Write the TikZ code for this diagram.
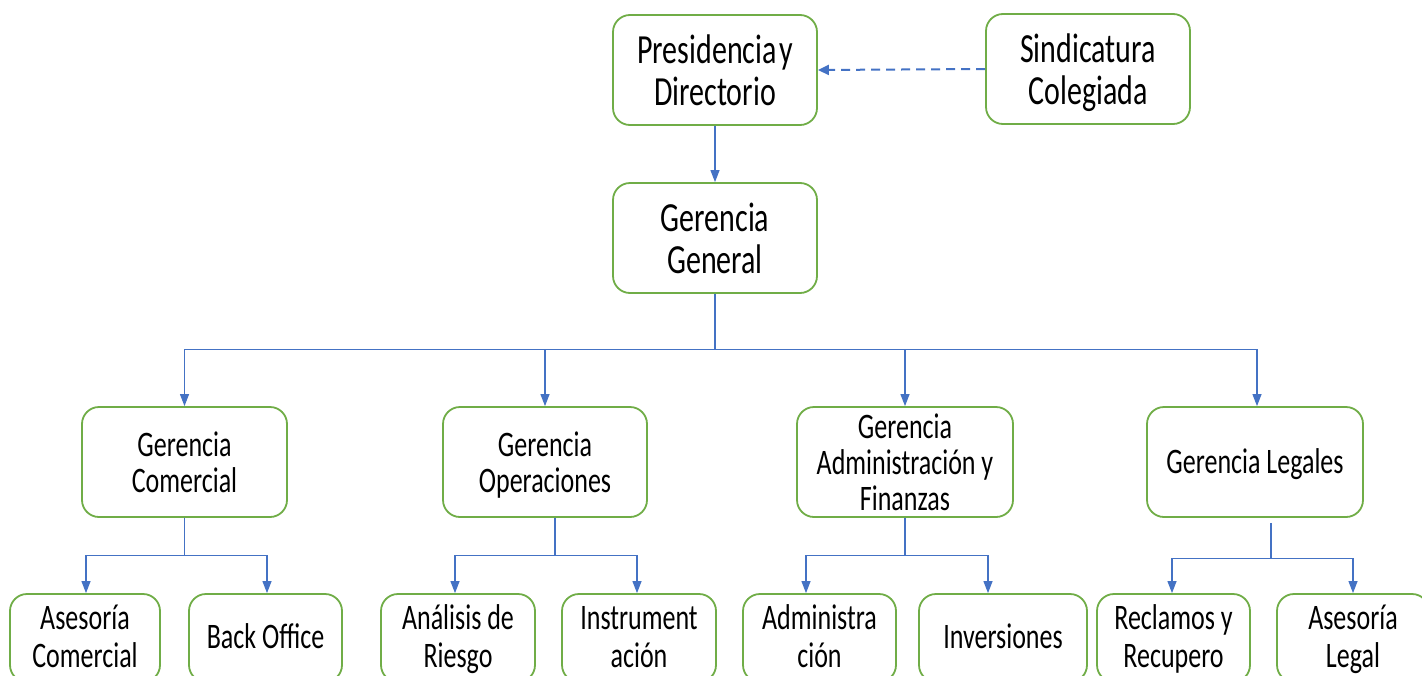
\documentclass[tikz,border=0pt]{standalone}
\usepackage{fontspec}
\setmainfont{Carlito}
\usepackage{graphicx}
\usetikzlibrary{arrows.meta}
\definecolor{boxgreen}{RGB}{112,173,71}
\definecolor{linkblue}{RGB}{68,114,196}
\newcommand{\boxtext}[4]{\raisebox{-#4}[\height][\depth]{\scalebox{1}[1.38]{\fontsize{#1}{#2}\selectfont\begin{tabular}{@{}c@{}}#3\end{tabular}}}}
\tikzset{
  orgbox/.style={draw=boxgreen, line width=1.8pt, rounded corners=17pt, fill=white, inner sep=0pt, align=center},
  conn/.style={draw=linkblue, line width=1.1pt},
  arr/.style={conn, -{Triangle[width=9pt,length=12pt]}},
  darr/.style={draw=linkblue, line width=2pt, dash pattern=on 9pt off 6pt, -{Triangle[width=10pt,length=11pt]}}
}
\begin{document}
\begin{tikzpicture}[x=1pt,y=-1pt]
\useasboundingbox (0,0) rectangle (1422,675);
\clip (0,0) rectangle (1422,675);
% top
\node[orgbox, minimum width=204pt, minimum height=110pt] (pres) at (715,70) {\boxtext{30}{30.5}{Presidencia\hspace{0.08em}y\\Directorio}{6pt}};
\node[orgbox, minimum width=204pt, minimum height=110pt] (sind) at (1088,69) {\boxtext{30}{30.5}{Sindicatura\\Colegiada}{6pt}};
\node[orgbox, minimum width=204pt, minimum height=110pt] (gg) at (715,238) {\boxtext{30}{30.5}{Gerencia\\General}{6pt}};
% level 2
\node[orgbox, minimum width=205pt, minimum height=110pt] (gc) at (184.5,462) {\boxtext{26}{26}{Gerencia\\Comercial}{5pt}};
\node[orgbox, minimum width=204pt, minimum height=110pt] (go) at (545,462) {\boxtext{26}{26}{Gerencia\\Operaciones}{5pt}};
\node[orgbox, minimum width=216pt, minimum height=110pt] (ga) at (905,462) {\boxtext{26}{26}{Gerencia\\Administración y\\Finanzas}{5pt}};
\node[orgbox, minimum width=216pt, minimum height=110pt] (gl) at (1255,462) {\boxtext{26}{26}{Gerencia Legales}{4pt}};
% level 3
\node[orgbox, minimum width=150pt, minimum height=88pt] (b1) at (85,638) {\boxtext{26}{27.5}{Asesoría\\Comercial}{3pt}};
\node[orgbox, minimum width=153pt, minimum height=88pt] (b2) at (265.5,638) {\boxtext{26}{27.5}{Back Office}{3pt}};
\node[orgbox, minimum width=154pt, minimum height=88pt] (b3) at (458,638) {\boxtext{26}{27.5}{Análisis de\\Riesgo}{3pt}};
\node[orgbox, minimum width=154pt, minimum height=88pt] (b4) at (639,638) {\boxtext{26}{27.5}{Instrument\\ación}{3pt}};
\node[orgbox, minimum width=153pt, minimum height=88pt] (b5) at (819.5,638) {\boxtext{26}{27.5}{Administra\\ción}{3pt}};
\node[orgbox, minimum width=168pt, minimum height=88pt] (b6) at (1003,638) {\boxtext{26}{27.5}{Inversiones}{3pt}};
\node[orgbox, minimum width=153pt, minimum height=88pt] (b7) at (1173.5,638) {\boxtext{26}{27.5}{Reclamos y\\Recupero}{3pt}};
\node[orgbox, minimum width=152pt, minimum height=88pt] (b8) at (1353,638) {\boxtext{26}{27.5}{Asesoría\\Legal}{3pt}};
% connectors
\draw[darr] (sind.west) -- (pres.east);
\draw[arr] (pres.south) -- (gg.north);
\draw[conn] (gg.south) -- ++(0,56) coordinate (j0);
\draw[arr] (j0) -| (gc.north);
\draw[arr] (j0) -| (go.north);
\draw[arr] (j0) -| (ga.north);
\draw[arr] (j0) -| ([xshift=2pt]gl.north);
% comercial
\draw[conn] (gc.south) -- ++(0,38) coordinate (j1);
\draw[arr] (j1) -| ([xshift=1pt]b1.north);
\draw[arr] (j1) -| ([xshift=1.5pt]b2.north);
% operaciones
\draw[conn] ([xshift=10pt]go.south) -- ++(0,38) coordinate (j2);
\draw[arr] (j2) -| ([xshift=-3pt]b3.north);
\draw[arr] (j2) -| ([xshift=-2pt]b4.north);
% administracion
\draw[conn] (ga.south) -- ++(0,38) coordinate (j3);
\draw[arr] (j3) -| ([xshift=-13.5pt]b5.north);
\draw[arr] (j3) -| ([xshift=-15pt]b6.north);
% legales
\draw[conn] ([xshift=16pt,yshift=-5pt]gl.south) -- ++(0,36) coordinate (j4);
\draw[arr] (j4) -| ([xshift=-1.5pt]b7.north);
\draw[arr] (j4) -| (b8.north);
\end{tikzpicture}
\end{document}
